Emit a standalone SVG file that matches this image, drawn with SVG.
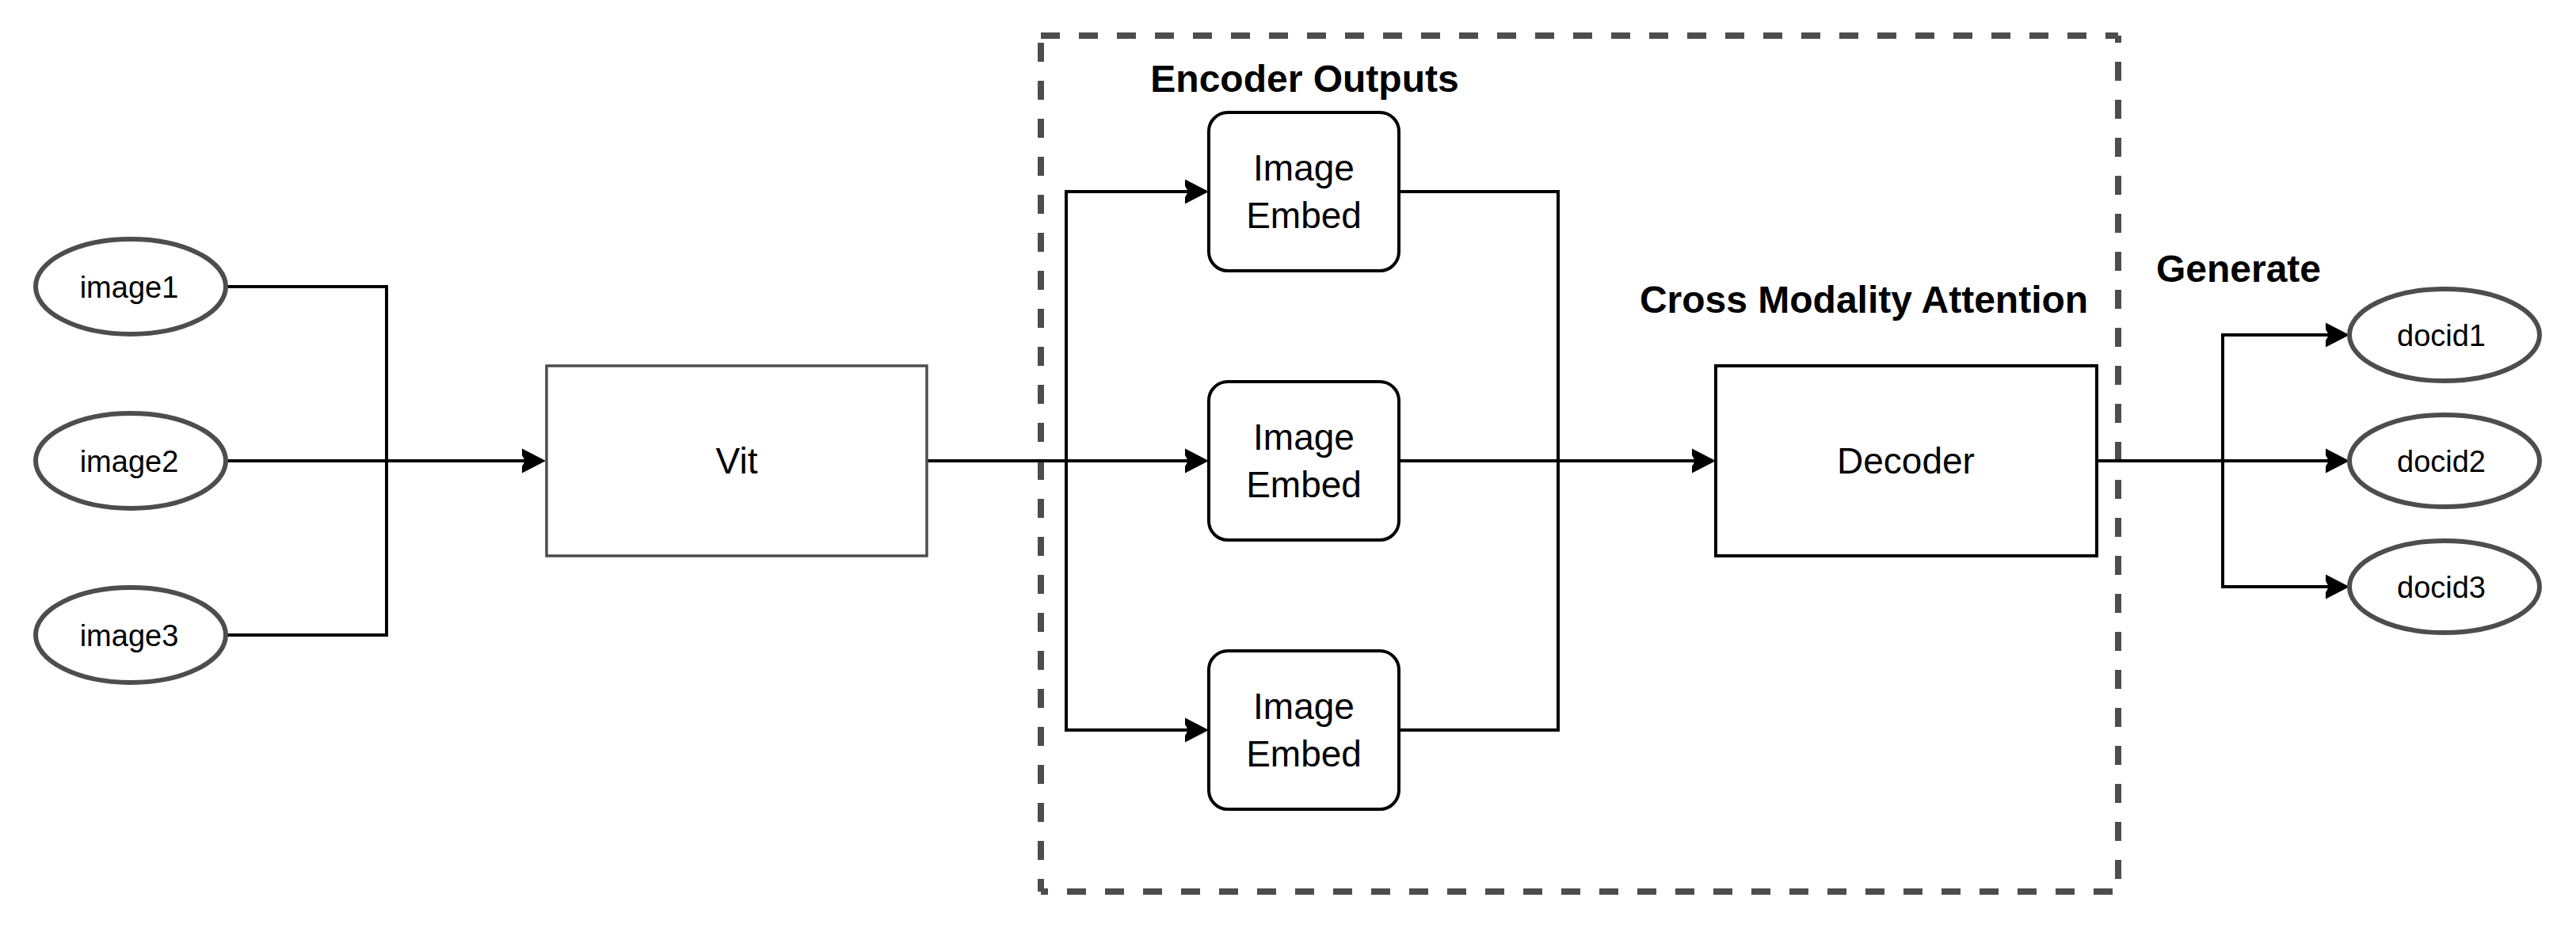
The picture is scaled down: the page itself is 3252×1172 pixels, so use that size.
<svg xmlns="http://www.w3.org/2000/svg" width="3252" height="1172" viewBox="0 0 3252 1172">
<style>
.ell{fill:#fff;stroke:#4d4d4d;stroke-width:6}
.box{fill:#fff;stroke:#000;stroke-width:4}
.vit{fill:#fff;stroke:#4d4d4d;stroke-width:3.5}
.dash{fill:none;stroke:#4d4d4d;stroke-width:8;stroke-dasharray:24 24}
.ln{fill:none;stroke:#000;stroke-width:4}
.t{font-family:"Liberation Sans",Arial,Helvetica,sans-serif;fill:#000;text-anchor:middle}
.s{font-size:38px}
.m{font-size:46px}
.b{font-size:48px;font-weight:bold}
</style>
<defs>
<marker id="arr" markerUnits="userSpaceOnUse" markerWidth="50" markerHeight="50" viewBox="-10 -25 50 50" refX="0" refY="0" orient="auto">
<path d="M20,0 L-17,-19 L-6,0 L-17,19 Z" fill="#000"/>
</marker>
</defs>
<rect width="3252" height="1172" fill="#fff"/>
<g id="cross-modality-group">
<line class="dash" x1="1314" y1="45" x2="2674" y2="45"/>
<line class="dash" x1="2674" y1="45" x2="2674" y2="1126" stroke-dashoffset="15"/>
<line class="dash" x1="1314" y1="1126" x2="2674" y2="1126" stroke-dashoffset="15"/>
<line class="dash" x1="1314" y1="45" x2="1314" y2="1126" stroke-dashoffset="39"/>
</g>
<g id="connectors">
<path class="ln" d="M285,362 H488 V582"/>
<path class="ln" d="M285,802 H488 V582"/>
<path class="ln" d="M285,582 H669" marker-end="url(#arr)"/>
<path class="ln" d="M1170,582 H1346 V242 H1506" marker-end="url(#arr)"/>
<path class="ln" d="M1346,582 H1506" marker-end="url(#arr)"/>
<path class="ln" d="M1346,582 V922 H1506" marker-end="url(#arr)"/>
<path class="ln" d="M1766,242 H1967 V582 H2146" marker-end="url(#arr)"/>
<path class="ln" d="M1766,582 H1967"/>
<path class="ln" d="M1766,922 H1967 V582"/>
<path class="ln" d="M2647,582 H2806 V423 H2946" marker-end="url(#arr)"/>
<path class="ln" d="M2806,582 H2946" marker-end="url(#arr)"/>
<path class="ln" d="M2806,582 V741 H2946" marker-end="url(#arr)"/>
</g>
<g id="image1"><ellipse class="ell" cx="165" cy="362" rx="120" ry="60"/><text class="t s" x="163" y="376">image1</text></g>
<g id="image2"><ellipse class="ell" cx="165" cy="582" rx="120" ry="60"/><text class="t s" x="163" y="596">image2</text></g>
<g id="image3"><ellipse class="ell" cx="165" cy="802" rx="120" ry="60"/><text class="t s" x="163" y="816">image3</text></g>
<g id="vit"><rect class="vit" x="690" y="462" width="480" height="240"/><text class="t m" x="930" y="598">Vit</text></g>
<g id="encoder-outputs-label"><text class="t b" x="1647" y="116">Encoder Outputs</text></g>
<g id="embed1"><rect class="box" x="1526" y="142" width="240" height="200" rx="24"/><text class="t m" x="1646" y="228">Image</text><text class="t m" x="1646" y="288">Embed</text></g>
<g id="embed2"><rect class="box" x="1526" y="482" width="240" height="200" rx="24"/><text class="t m" x="1646" y="568">Image</text><text class="t m" x="1646" y="628">Embed</text></g>
<g id="embed3"><rect class="box" x="1526" y="822" width="240" height="200" rx="24"/><text class="t m" x="1646" y="908">Image</text><text class="t m" x="1646" y="968">Embed</text></g>
<g id="cross-modality-label"><text class="t b" x="2353" y="395">Cross Modality Attention</text></g>
<g id="decoder"><rect class="box" x="2166" y="462" width="481" height="240"/><text class="t m" x="2406" y="598">Decoder</text></g>
<g id="generate-label"><text class="t b" x="2826" y="356">Generate</text></g>
<g id="docid1"><ellipse class="ell" cx="3086" cy="423" rx="120" ry="58"/><text class="t s" x="3082" y="437">docid1</text></g>
<g id="docid2"><ellipse class="ell" cx="3086" cy="582" rx="120" ry="58"/><text class="t s" x="3082" y="596">docid2</text></g>
<g id="docid3"><ellipse class="ell" cx="3086" cy="741" rx="120" ry="58"/><text class="t s" x="3082" y="755">docid3</text></g>
</svg>
